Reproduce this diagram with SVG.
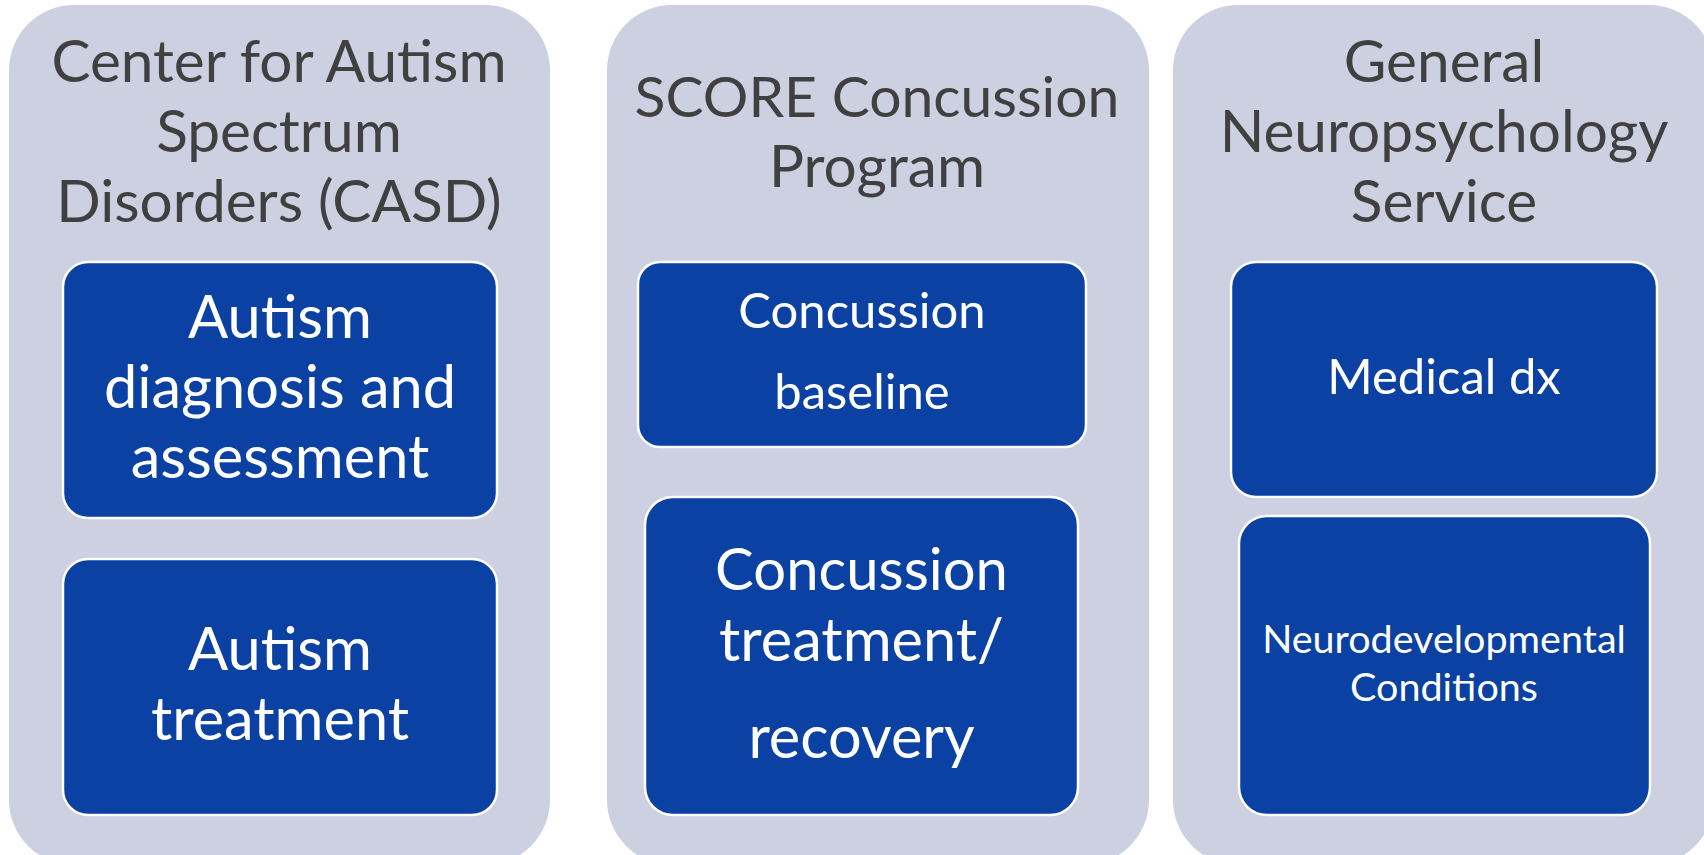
<svg xmlns="http://www.w3.org/2000/svg" width="1704" height="855" viewBox="0 0 1704 855">
  <style>
    .panel { fill: #CDD0E1; }
    .box { fill: #0A41A3; stroke: #FFFFFF; stroke-width: 2.5; }
    .title { font-family: Lato, "Open Sans", sans-serif; font-size: 58.5px; fill: #404040; text-anchor: middle; }
    .big { font-family: Lato, "Open Sans", sans-serif; font-size: 59.5px; fill: #FFFFFF; text-anchor: middle; }
    .mid { font-family: Lato, "Open Sans", sans-serif; font-size: 49px; fill: #FFFFFF; text-anchor: middle; }
    .small { font-family: Lato, "Open Sans", sans-serif; font-size: 39.5px; fill: #FFFFFF; text-anchor: middle; }
  </style>
  <rect width="1704" height="855" fill="#FFFFFF"/>

  <!-- Column 1: CASD -->
  <g id="casd">
    <rect class="panel" x="9" y="5" width="541" height="860" rx="65" ry="65"/>
    <text class="title" x="279" y="82">Center for Autism</text>
    <text class="title" x="279" y="152">Spectrum</text>
    <text class="title" x="279" y="222">Disorders (CASD)</text>
  </g>
  <g id="casd-diagnosis">
    <rect class="box" x="63" y="262" width="434" height="256" rx="25" ry="25"/>
    <text class="big" x="280" y="338">Autism</text>
    <text class="big" x="280" y="408">diagnosis and</text>
    <text class="big" x="280" y="478">assessment</text>
  </g>
  <g id="casd-treatment">
    <rect class="box" x="63" y="559" width="434" height="256" rx="25" ry="25"/>
    <text class="big" x="280" y="670">Autism</text>
    <text class="big" x="280" y="740">treatment</text>
  </g>

  <!-- Column 2: SCORE -->
  <g id="score">
    <rect class="panel" x="607" y="5" width="542" height="860" rx="65" ry="65"/>
    <text class="title" x="877" y="117" style="font-size:57px">SCORE Concussion</text>
    <text class="title" x="877" y="187">Program</text>
  </g>
  <g id="score-baseline">
    <rect class="box" x="638" y="262" width="448" height="185" rx="22" ry="22"/>
    <text class="mid" x="862" y="328">Concussion</text>
    <text class="mid" x="862" y="409">baseline</text>
  </g>
  <g id="score-treatment">
    <rect class="box" x="645" y="497" width="433" height="318" rx="28" ry="28"/>
    <text class="big" x="861.5" y="590" style="font-size:58px">Concussion</text>
    <text class="big" x="861.5" y="661">treatment/</text>
    <text class="big" x="861.5" y="758">recovery</text>
  </g>

  <!-- Column 3: General Neuropsychology -->
  <g id="general">
    <rect class="panel" x="1173" y="5" width="541" height="860" rx="65" ry="65"/>
    <text class="title" x="1444" y="82">General</text>
    <text class="title" x="1444" y="152">Neuropsychology</text>
    <text class="title" x="1444" y="222">Service</text>
  </g>
  <g id="general-medical">
    <rect class="box" x="1231" y="262" width="426" height="235" rx="25" ry="25"/>
    <text class="mid" x="1444" y="394">Medical dx</text>
  </g>
  <g id="general-neurodev">
    <rect class="box" x="1239" y="516" width="411" height="299" rx="28" ry="28"/>
    <text class="small" x="1444" y="653">Neurodevelopmental</text>
    <text class="small" x="1444" y="701">Conditions</text>
  </g>

  <!-- no connectors in this layout -->
  <g id="connectors"/>
</svg>
